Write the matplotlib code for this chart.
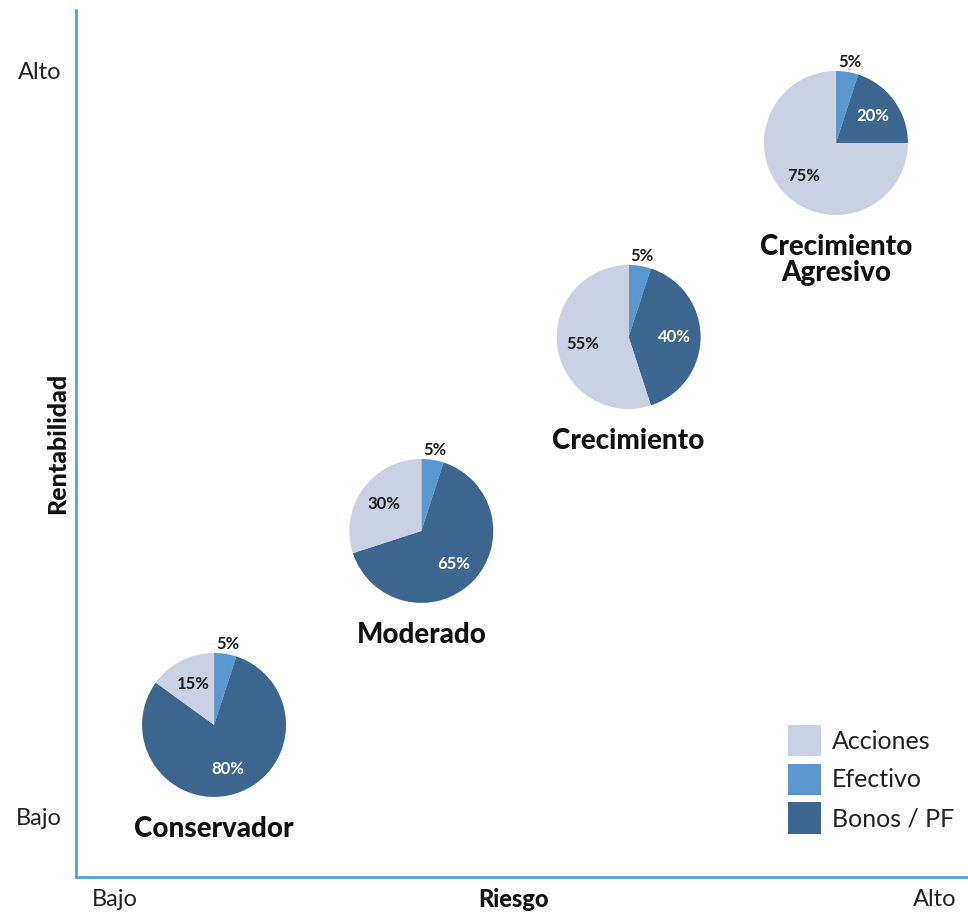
import matplotlib

matplotlib.use("Agg")
import matplotlib.pyplot as plt
from matplotlib.patches import Patch
import numpy as np

# Perfiles de inversión: posición en (riesgo, rentabilidad) y composición
perfiles = ["Conservador", "Moderado", "Crecimiento", "Crecimiento\nAgresivo"]
riesgo = [1, 2, 3, 4]
rentabilidad = [1, 2, 3, 4]
componentes = ["Efectivo", "Bonos / PF", "Acciones"]
efectivo = [5, 5, 5, 5]
bonos = [80, 65, 40, 20]
acciones = [15, 30, 55, 75]

colores = {"Acciones": "#c9d1e3", "Efectivo": "#5b97cf", "Bonos / PF": "#3b6690"}
color_texto = {"Acciones": "#1a1a1a", "Efectivo": "#1a1a1a", "Bonos / PF": "white"}
orden_leyenda = ["Acciones", "Efectivo", "Bonos / PF"]

plt.rcParams["font.family"] = ["Lato", "DejaVu Sans"]

fig = plt.figure(figsize=(9.68, 9.19), dpi=100)
ax = fig.add_axes([0.0785, 0.0457, 0.9215, 0.9433])
ax.set_xlim(0.334, 4.637)
ax.set_ylim(0.216, 4.685)

for side in ("top", "right"):
    ax.spines[side].set_visible(False)
for side in ("left", "bottom"):
    ax.spines[side].set_color("#4da6d6")
    ax.spines[side].set_linewidth(2)
ax.set_xticks([])
ax.set_yticks([])

w, h = 0.695, 0.742
for i, nombre in enumerate(perfiles):
    x, y = riesgo[i], rentabilidad[i]
    pax = ax.inset_axes([x - w / 2, y - h / 2, w, h], transform=ax.transData)
    vals = [efectivo[i], bonos[i], acciones[i]]
    wedges, _, pcts = pax.pie(
        vals, colors=[colores[c] for c in componentes], startangle=90,
        counterclock=False, autopct="%d%%", pctdistance=0.64,
        wedgeprops=dict(linewidth=0),
        textprops=dict(fontsize=12, fontweight="bold"))
    for comp, t in zip(componentes, pcts):
        t.set_color(color_texto[comp])
    # el 5% de efectivo va fuera del círculo
    wd = wedges[0]
    ang = np.deg2rad((wd.theta1 + wd.theta2) / 2)
    pcts[0].set_position((1.2 * np.cos(ang), 1.14 * np.sin(ang)))
    pax.set_xlim(-1, 1)
    pax.set_ylim(-1, 1)
    pax.set_aspect("equal")
    pax.text(0, -1.27, nombre, ha="center", va="top", fontsize=20,
             fontweight="black", linespacing=1.0, color="#111111")

lab = dict(transform=ax.transAxes, fontsize=17, color="#222222")
ax.text(-0.016, 0.9285, "Alto", ha="right", va="center", **lab)
ax.text(-0.016, 0.068, "Bajo", ha="right", va="center", **lab)
ax.text(0.044, -0.0265, "Bajo", ha="center", va="center", **lab)
ax.text(0.963, -0.0265, "Alto", ha="center", va="center", **lab)
ax.text(0.49, -0.0265, "Riesgo", ha="center", va="center", transform=ax.transAxes,
        fontsize=17, fontweight="black", color="#111111")
ax.text(-0.021, 0.5, "Rentabilidad", transform=ax.transAxes, ha="center",
        va="center", rotation=90, fontsize=18, fontweight="black", color="#111111")

handles = [Patch(facecolor=colores[c], edgecolor="none", label=c) for c in orden_leyenda]
leg = ax.legend(handles=handles, loc="lower right", bbox_to_anchor=(1.01, 0.024),
                frameon=False, fontsize=18, handlelength=1.32, handleheight=1.55,
                labelspacing=0.3, handletextpad=0.44)
for t in leg.get_texts():
    t.set_color("#222222")

fig.savefig("out.png", dpi=100)
